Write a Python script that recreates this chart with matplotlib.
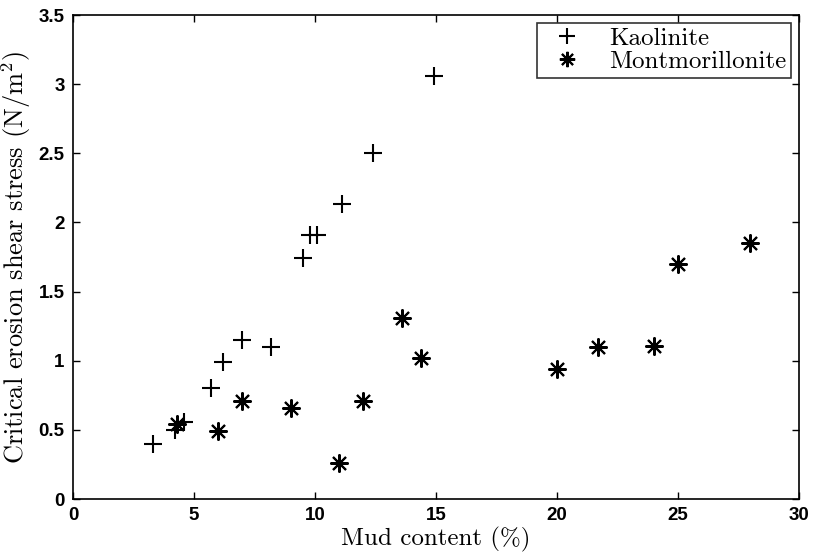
import matplotlib
matplotlib.use("Agg")
import matplotlib.pyplot as plt
from matplotlib.ticker import FixedLocator, FixedFormatter

kaolinite_x = [3.3, 4.2, 4.6, 5.7, 6.2, 7.0, 8.2, 9.5, 9.8, 10.1, 11.1, 12.4, 14.9]
kaolinite_y = [0.40, 0.50, 0.56, 0.80, 0.99, 1.15, 1.10, 1.74, 1.91, 1.91, 2.13, 2.50, 3.06]

montmorillonite_x = [4.3, 6.0, 7.0, 9.0, 11.0, 12.0, 13.6, 14.4, 20.0, 21.7, 24.0, 25.0, 28.0]
montmorillonite_y = [0.54, 0.49, 0.71, 0.66, 0.26, 0.71, 1.31, 1.02, 0.94, 1.10, 1.11, 1.70, 1.85]

x_ticks = [0, 5, 10, 15, 20, 25, 30]
y_ticks = [0, 0.5, 1, 1.5, 2, 2.5, 3, 3.5]
y_tick_labels = ["0", "0.5", "1", "1.5", "2", "2.5", "3", "3.5"]

plt.rcParams['mathtext.fontset'] = 'cm'

fig = plt.figure(figsize=(8.16, 5.56), dpi=100)
ax = fig.add_axes([0.0895, 0.1025, 0.8895, 0.8705])

ax.plot(kaolinite_x, kaolinite_y, linestyle='none', marker='+', markersize=13,
        markeredgewidth=1.5, color='black', label='Kaolinite')
ax.plot(montmorillonite_x, montmorillonite_y, linestyle='none', marker=(8, 2, 0),
        markersize=13, markeredgewidth=1.5, color='black', label='Montmorillonite')

ax.set_xlim(0, 30)
ax.set_ylim(0, 3.5)
ax.xaxis.set_major_locator(FixedLocator(x_ticks))
ax.yaxis.set_major_locator(FixedLocator(y_ticks))
ax.yaxis.set_major_formatter(FixedFormatter(y_tick_labels))

ax.tick_params(direction='in', top=True, right=True, length=5, width=1,
               labelsize=13.5, pad=6)
for lab in ax.get_xticklabels() + ax.get_yticklabels():
    lab.set_fontfamily('Liberation Sans')
    lab.set_fontweight('bold')
for s in ax.spines.values():
    s.set_linewidth(1.2)

ax.set_xlabel('Mud content (%)', fontfamily='cmr10', fontsize=18, labelpad=2)
ax.set_ylabel('Critical erosion shear stress (N/m$^2$)', fontfamily='cmr10',
              fontsize=19, labelpad=4)

leg = ax.legend(loc='upper right', prop={'family': 'cmr10', 'size': 18},
                frameon=True, fancybox=False, edgecolor='black',
                borderaxespad=0.3, handlelength=2.0, handletextpad=0.7,
                borderpad=0.2, labelspacing=0.0, markerscale=0.85)
leg.get_frame().set_linewidth(1.2)

fig.savefig('out.png', dpi=100)
